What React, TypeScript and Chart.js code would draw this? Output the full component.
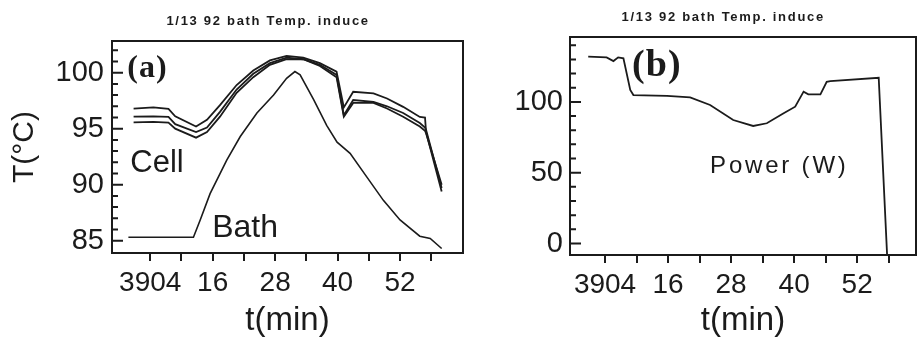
import React, { useEffect, useRef } from 'react';
import { Chart, registerables } from 'chart.js';

Chart.register(...registerables);

// ---------- data ----------
const titleText = '1/13 92 bath Temp. induce';

const cellTimes = [0.8, 4.6, 7.5, 8.8, 12.8, 14.9, 17.4, 20.6, 23.8, 27, 30.2, 33.4, 36.6, 39.8, 41.2, 43, 46.9, 49.5, 52.6, 55.8, 56.8, 57.0, 60];
const cellUpper = [96.8, 96.9, 96.76, 96.1, 95.2, 95.8, 97.1, 98.9, 100.2, 101.1, 101.5, 101.35, 100.85, 100.1, 96.9, 98.3, 98.15, 97.7, 96.95, 96.05, 96.0, 94.7, 89.4];
const cellMiddle = [96.07, 96.1, 96.05, 95.4, 94.7, 95.1, 96.5, 98.5, 99.9, 100.85, 101.35, 101.2, 100.7, 99.8, 96.2, 97.56, 97.4, 97.0, 96.4, 95.5, 95.1, 94.9, 89.7];
const cellLower = [95.57, 95.6, 95.55, 95.0, 94.2, 94.7, 96.07, 98.2, 99.6, 100.7, 101.2, 101.2, 100.6, 99.6, 96.07, 97.3, 97.3, 96.8, 96.07, 95.2, 94.8, 94.6, 90.0];

const bathTimes = [-0.2, 12.3, 13.6, 15.5, 18.7, 21.3, 24.5, 27.7, 30.2, 31.8, 32.8, 35.4, 37.9, 39.9, 42.4, 45.6, 48.8, 52, 55.8, 57.8, 60];
const bathTemp = [85.3, 85.3, 86.85, 89.2, 92.2, 94.3, 96.4, 98.0, 99.5, 100.1, 99.8, 97.6, 95.3, 93.8, 92.8, 90.7, 88.6, 86.85, 85.4, 85.2, 84.3];

const powerTimes = [0.8, 4.3, 5.6, 6.5, 7.5, 8.8, 9.4, 15.8, 20.2, 24, 28.4, 32.2, 34.8, 38, 40.2, 41.8, 42.7, 45, 46.2, 46.9, 56.1, 57.7];
const powerW = [131.9, 131.4, 128.8, 131.4, 130.7, 108.4, 104.8, 104.3, 103.2, 97.8, 87.2, 83.0, 84.9, 91.9, 96.6, 107.2, 105.3, 105.3, 114.2, 114.7, 117.0, -8.1];

const xTickValues = [4, 16, 28, 40, 52];
const xTickLabels = ['3904', '16', '28', '40', '52'];
const xMinorTicks = [4, 10, 16, 22, 28, 34, 40, 46, 52, 58];
const tempTicks = [85, 90, 95, 100];
const tempMinorTicks = [84, 85, 86, 87, 88, 89, 90, 91, 92, 93, 94, 95, 96, 97, 98, 99, 100, 101, 102];
const powerTicks = [0, 50, 100];
const powerMinorTicks = [0, 10, 20, 30, 40, 50, 60, 70, 80, 90, 100, 110, 120, 130, 140];

// ---------- styling ----------
const INK = '#1b1b1b';
const SANS = "'Liberation Sans', Arial, sans-serif";
const SERIF = "'Liberation Serif', 'Times New Roman', serif";

const pts = (xs: number[], ys: number[]) => xs.map((x, i) => ({ x, y: ys[i] }));

type Txt = { text: string; x: number; y: number; font: string; spacing?: string; align?: string; baseline?: string };

function makeTicks(yMinor: number[], yMajor: number[]) {
  return {
    id: 'innerTicks',
    afterDatasetsDraw(chart: any) {
      const ctx: CanvasRenderingContext2D = chart.ctx;
      const a = chart.chartArea;
      const ys = chart.scales.y;
      ctx.save();
      ctx.beginPath();
      ctx.strokeStyle = INK;
      ctx.lineWidth = 2;
      ctx.setLineDash([]);
      for (let i = 0; i < yMinor.length; i++) {
        const v = yMinor[i];
        const py = ys.getPixelForValue(v);
        if (!(py > a.top + 2 && py < a.bottom - 2)) continue;
        const len = yMajor.indexOf(v) >= 0 ? 11 : 6;
        ctx.moveTo(a.left, py);
        ctx.lineTo(a.left + len, py);
      }
      ctx.stroke();
      ctx.restore();
    },
  };
}

function makeFrame(texts: Txt[]) {
  return {
    id: 'frame',
    afterDraw(chart: any) {
      const ctx: CanvasRenderingContext2D = chart.ctx;
      const a = chart.chartArea;
      const xs = chart.scales.x;
      const ys = chart.scales.y;
      ctx.save();
      ctx.fillStyle = INK;
      ctx.fillRect(a.left - 1, a.top - 1, a.right - a.left + 2, 2);
      ctx.fillRect(a.left - 1, a.bottom - 1, a.right - a.left + 2, 2);
      ctx.fillRect(a.left - 1, a.top - 1, 2, a.bottom - a.top + 2);
      ctx.fillRect(a.right - 1, a.top - 1, 2, a.bottom - a.top + 2);
      for (let i = 0; i < texts.length; i++) {
        const t = texts[i];
        ctx.font = t.font;
        (ctx as any).letterSpacing = t.spacing || '0px';
        ctx.fillStyle = INK;
        ctx.textAlign = (t.align || 'left') as CanvasTextAlign;
        ctx.textBaseline = (t.baseline || 'alphabetic') as CanvasTextBaseline;
        ctx.fillText(t.text, xs.getPixelForValue(t.x), ys.getPixelForValue(t.y));
      }
      ctx.restore();
    },
  };
}

const lineDs = (label: string, data: any[], width: number) => ({
  label,
  data,
  borderColor: INK,
  backgroundColor: INK,
  borderWidth: width,
  pointRadius: 0,
  tension: 0,
  fill: false,
});

function xScale(min: number, max: number, height: number) {
  return {
    type: 'linear',
    min,
    max,
    afterBuildTicks: (s: any) => {
      s.ticks = xMinorTicks.map((v) => ({ value: v }));
    },
    afterFit: (s: any) => {
      s.height = height;
    },
    ticks: {
      autoSkip: false,
      maxRotation: 0,
      padding: 5,
      color: INK,
      font: { family: SANS, size: 28 },
      callback: (v: any) => {
        const k = xTickValues.indexOf(Number(v));
        return k >= 0 ? xTickLabels[k] : '';
      },
    },
    grid: { display: true, drawOnChartArea: false, drawTicks: true, tickLength: 8, color: INK, lineWidth: 2 },
    border: { display: false },
    title: {
      display: true,
      text: 't(min)',
      color: INK,
      font: { family: SANS, size: 33 },
      padding: { top: 0, bottom: 0 },
    },
  };
}

function yScale(min: number, max: number, width: number, major: number[], pad: number) {
  return {
    type: 'linear',
    min,
    max,
    afterBuildTicks: (s: any) => {
      s.ticks = major.map((v) => ({ value: v }));
    },
    afterFit: (s: any) => {
      s.width = width;
    },
    ticks: {
      autoSkip: false,
      padding: pad,
      color: INK,
      font: { family: SANS, size: 29 },
    },
    grid: { display: false, drawTicks: false },
    border: { display: false },
  };
}

function configA() {
  return {
    type: 'line',
    data: {
      datasets: [
        lineDs('Cell 1', pts(cellTimes, cellUpper), 1.8),
        lineDs('Cell 2', pts(cellTimes, cellMiddle), 1.8),
        lineDs('Cell 3', pts(cellTimes, cellLower), 1.8),
        lineDs('Bath', pts(bathTimes, bathTemp), 1.6),
      ],
    },
    options: {
      animation: false,
      responsive: false,
      layout: { padding: { top: 41, right: 3, left: 0, bottom: 0 } },
      plugins: {
        legend: { display: false },
        title: { display: false },
        tooltip: { enabled: false },
      },
      scales: {
        x: xScale(-3.35, 64.1, 88),
        y: {
          ...yScale(83.9, 102.83, 112, tempTicks, 8),
          title: {
            display: true,
            text: 'T(°C)',
            color: INK,
            font: { family: SANS, size: 30 },
            padding: { top: 7, bottom: 0 },
          },
        },
      },
    },
    plugins: [
      makeTicks(tempMinorTicks, tempTicks),
      makeFrame([
        { text: titleText, x: 26.65, y: 104.6, align: 'center', baseline: 'middle', font: `bold 13px ${SANS}`, spacing: '1.7px' },
        { text: '(a)', x: -0.42, y: 99.6, font: `bold 32px ${SERIF}`, spacing: '1px' },
        { text: 'Cell', x: 0.16, y: 91.13, font: `31px ${SANS}` },
        { text: 'Bath', x: 15.9, y: 85.33, font: `32px ${SANS}` },
      ]),
    ],
  };
}

function configB() {
  return {
    type: 'line',
    data: {
      datasets: [lineDs('Power (W)', pts(powerTimes, powerW), 1.8)],
    },
    options: {
      animation: false,
      responsive: false,
      layout: { padding: { top: 37, right: 3, left: 0, bottom: 0 } },
      plugins: {
        legend: { display: false },
        title: { display: false },
        tooltip: { enabled: false },
      },
      scales: {
        x: xScale(-2.67, 63.2, 86),
        y: yScale(-8.1, 145.8, 104, powerTicks, 7),
      },
    },
    plugins: [
      makeTicks(powerMinorTicks, powerTicks),
      makeFrame([
        { text: titleText, x: 26.5, y: 159.5, align: 'center', baseline: 'middle', font: `bold 13px ${SANS}`, spacing: '1.7px' },
        { text: '(b)', x: 9.15, y: 118.2, font: `bold 38px ${SERIF}`, spacing: '1px' },
        { text: 'Power (W)', x: 24.0, y: 49.8, font: `24px ${SANS}`, spacing: '2.8px' },
      ]),
    ],
  };
}

function Panel({ left, width, make }: { left: number; width: number; make: () => any }) {
  const ref = useRef<HTMLCanvasElement | null>(null);
  useEffect(() => {
    if (!ref.current) return;
    const chart = new Chart(ref.current, make());
    return () => chart.destroy();
  }, [make]);
  return (
    <canvas
      ref={ref}
      width={width}
      height={341}
      style={{ position: 'absolute', left, top: 0, width, height: 341, display: 'block' }}
    />
  );
}

export default function App() {
  return (
    <div style={{ position: 'fixed', left: 0, top: 0, width: 919, height: 341, background: '#ffffff', overflow: 'hidden' }}>
      <Panel left={0} width={466} make={configA} />
      <Panel left={466} width={453} make={configB} />
    </div>
  );
}
